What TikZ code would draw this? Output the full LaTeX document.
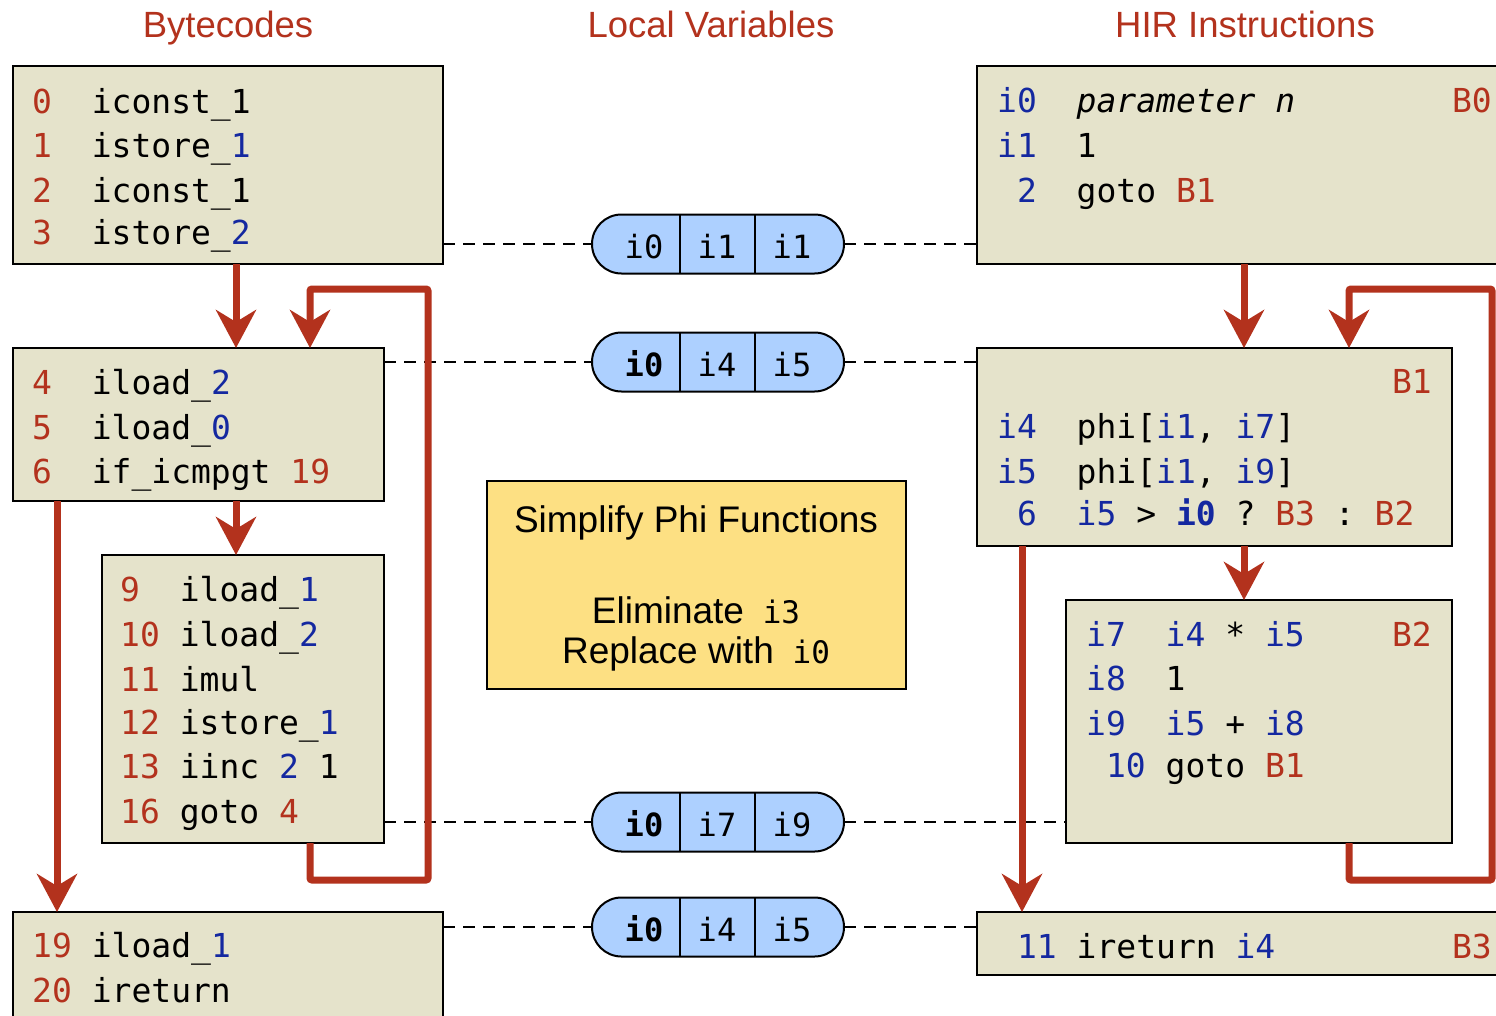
\documentclass[tikz,border=0pt]{standalone}
\usepackage{fontspec}
\setmainfont{Liberation Sans}
\setmonofont{DejaVu Sans Mono}[ItalicFont={DejaVu Sans Mono Oblique},BoldFont={DejaVu Sans Mono Bold}]
\usetikzlibrary{arrows.meta}
\definecolor{hred}{HTML}{B3321D}
\definecolor{hblue}{HTML}{1428A0}
\definecolor{blkfill}{HTML}{E5E3CB}
\definecolor{pillfill}{HTML}{ADD0FF}
\definecolor{notefill}{HTML}{FDE083}
\newcommand\tr[1]{\textcolor{hred}{#1}}
\newcommand\tb[1]{\textcolor{hblue}{#1}}
\begin{document}
\begin{tikzpicture}[x=1pt,y=-1pt,
  blk/.style={draw=black,line width=2pt,fill=blkfill,anchor=north west,inner sep=0pt,outer sep=0pt},
  code/.style={anchor=base west,inner sep=0pt,font=\fontsize{33}{40}\selectfont\ttfamily},
  blabel/.style={anchor=base east,inner sep=0pt,text=hred,font=\fontsize{33}{40}\selectfont\ttfamily},
  title/.style={anchor=base,inner sep=0pt,text=hred,font=\fontsize{36.5}{40}\selectfont},
  pill/.style={draw=black,line width=2pt,fill=pillfill,rounded corners=29.5pt,minimum width=252pt,minimum height=59pt,inner sep=0pt,outer sep=0pt},
  cell/.style={anchor=base,inner sep=0pt,font=\fontsize{32}{40}\selectfont\ttfamily},
  dashconn/.style={draw=black,line width=2pt,dash pattern=on 12pt off 8pt},
  flow/.style={draw=hred,line width=7pt,rounded corners=2pt,-{Stealth[length=38pt,width=40pt,inset=12pt]}},
  notetext/.style={anchor=base,inner sep=0pt,font=\fontsize{37}{40}\selectfont}]
\clip (0,0) rectangle (1496,1015);
\fill[white] (0,0) rectangle (1496,1015);

% column headings
\node[title] (t1) at (228,37) {Bytecodes};
\node[title] (t2) at (711,37) {Local Variables};
\node[title] (t3) at (1245,37) {HIR Instructions};

% bytecode blocks
\node[blk,minimum width=430pt,minimum height=198pt] (bc0) at (13,66) {};
\node[blk,minimum width=371pt,minimum height=153pt] (bc1) at (13,348) {};
\node[blk,minimum width=282pt,minimum height=288pt] (bc2) at (102,555) {};
\node[blk,minimum width=430pt,minimum height=130pt] (bc3) at (13,912) {};

% HIR blocks
\node[blk,minimum width=540pt,minimum height=198pt] (b0) at (977,66) {};
\node[blk,minimum width=475pt,minimum height=198pt] (b1) at (977,348) {};
\node[blk,minimum width=386pt,minimum height=243pt] (b2) at (1066,600) {};
\node[blk,minimum width=540pt,minimum height=63pt] (b3) at (977,912) {};

% note
\node[draw=black,line width=2pt,fill=notefill,anchor=north west,minimum width=419pt,minimum height=208pt,inner sep=0pt,outer sep=0pt] (note) at (487,481) {};
\node[notetext] (n1) at (696,532) {Simplify Phi Functions};
\node[notetext] (n2) at (696,623) {Eliminate{\fontsize{31}{40}\selectfont\ttfamily~i3}};
\node[notetext] (n3) at (696,663) {Replace with{\fontsize{31}{40}\selectfont\ttfamily~i0}};

% bytecode text
\node[code] (bc0a) at (32,113) {\tr{0}~~iconst\_1};
\node[code] (bc0b) at (32,157) {\tr{1}~~istore\_\tb{1}};
\node[code] (bc0c) at (32,202) {\tr{2}~~iconst\_1};
\node[code] (bc0d) at (32,244) {\tr{3}~~istore\_\tb{2}};

\node[code] (bc1a) at (32,394) {\tr{4}~~iload\_\tb{2}};
\node[code] (bc1b) at (32,439) {\tr{5}~~iload\_\tb{0}};
\node[code] (bc1c) at (32,483) {\tr{6}~~if\_icmpgt~\tr{19}};

\node[code] (bc2a) at (120,601) {\tr{9}~~iload\_\tb{1}};
\node[code] (bc2b) at (120,646) {\tr{10}~iload\_\tb{2}};
\node[code] (bc2c) at (120,691) {\tr{11}~imul};
\node[code] (bc2d) at (120,734) {\tr{12}~istore\_\tb{1}};
\node[code] (bc2e) at (120,778) {\tr{13}~iinc~\tb{2}~1};
\node[code] (bc2f) at (120,823) {\tr{16}~goto~\tr{4}};

\node[code] (bc3a) at (32,957) {\tr{19}~iload\_\tb{1}};
\node[code] (bc3b) at (32,1002) {\tr{20}~ireturn};

% HIR text
\node[code] (b0a) at (997,112) {\tb{i0}~~\textit{parameter~n}};
\node[code] (b0b) at (997,157) {\tb{i1}~~1};
\node[code] (b0c) at (997,202) {~\tb{2}~~goto~\tr{B1}};
\node[blabel] (b0l) at (1492,112) {B0};

\node[blabel] (b1l) at (1432,393) {B1};
\node[code] (b1a) at (997,438) {\tb{i4}~~phi[\tb{i1},~\tb{i7}]};
\node[code] (b1b) at (997,483) {\tb{i5}~~phi[\tb{i1},~\tb{i9}]};
\node[code] (b1c) at (997,525) {~\tb{6}~~\tb{i5}~>~\textbf{\tb{i0}}~?~\tr{B3}~:~\tr{B2}};

\node[code] (b2a) at (1086,646) {\tb{i7}~~\tb{i4}~*~\tb{i5}};
\node[code] (b2b) at (1086,690) {\tb{i8}~~1};
\node[code] (b2c) at (1086,735) {\tb{i9}~~\tb{i5}~+~\tb{i8}};
\node[code] (b2d) at (1086,777) {~\tb{10}~goto~\tr{B1}};
\node[blabel] (b2l) at (1432,646) {B2};

\node[code] (b3a) at (997,958) {~\tb{11}~ireturn~\tb{i4}};
\node[blabel] (b3l) at (1492,958) {B3};

% local variable states
\node[pill] (p1) at (718,244) {};
\node[pill] (p2) at (718,362) {};
\node[pill] (p3) at (718,822) {};
\node[pill] (p4) at (718,927) {};
\foreach \p in {p1,p2,p3,p4}{
  \draw[line width=2pt] ([xshift=-38pt]\p.north) -- ([xshift=-38pt]\p.south);
  \draw[line width=2pt] ([xshift=37pt]\p.north) -- ([xshift=37pt]\p.south);
}
\node[cell] (p1a) at (644,258) {i0};
\node[cell] (p1b) at (717,258) {i1};
\node[cell] (p1c) at (792,258) {i1};
\node[cell] (p2a) at (644,376) {\textbf{i0}};
\node[cell] (p2b) at (717,376) {i4};
\node[cell] (p2c) at (792,376) {i5};
\node[cell] (p3a) at (644,836) {\textbf{i0}};
\node[cell] (p3b) at (717,836) {i7};
\node[cell] (p3c) at (792,836) {i9};
\node[cell] (p4a) at (644,941) {\textbf{i0}};
\node[cell] (p4b) at (717,941) {i4};
\node[cell] (p4c) at (792,941) {i5};

% dashed links between blocks and variable states
\draw[dashconn] (p1.west -| bc0.east) -- (p1.west);
\draw[dashconn] (p1.east) -- (p1.east -| b0.west);
\draw[dashconn] (p2.west -| bc1.east) -- (p2.west);
\draw[dashconn] (p2.east) -- (p2.east -| b1.west);
\draw[dashconn] (p3.west -| bc2.east) -- (p3.west);
\draw[dashconn] (p3.east) -- (p3.east -| b2.west);
\draw[dashconn] (p4.west -| bc3.east) -- (p4.west);
\draw[dashconn] (p4.east) -- (p4.east -| b3.west);

% control flow, bytecodes
\coordinate (lpa) at (428,880);
\coordinate (lpb) at (428,289);
\draw[flow] ([xshift=223pt]bc0.south west) -- ([xshift=223pt]bc1.north west);
\draw[flow] ([xshift=223pt]bc1.south west) -- ([xshift=134pt]bc2.north west);
\draw[flow] ([xshift=44pt]bc1.south west) -- ([xshift=44pt]bc3.north west);
\draw[flow] ([xshift=208pt]bc2.south west) |- (lpa) -- (lpb) -| ([xshift=297pt]bc1.north west);

% control flow, HIR
\coordinate (rpa) at (1492,880);
\coordinate (rpb) at (1492,289);
\draw[flow] ([xshift=267pt]b0.south west) -- ([xshift=267pt]b1.north west);
\draw[flow] ([xshift=267pt]b1.south west) -- ([xshift=178pt]b2.north west);
\draw[flow] ([xshift=45pt]b1.south west) -- ([xshift=45pt]b3.north west);
\draw[flow] ([xshift=283pt]b2.south west) |- (rpa) -- (rpb) -| ([xshift=372pt]b1.north west);
\end{tikzpicture}
\end{document}
